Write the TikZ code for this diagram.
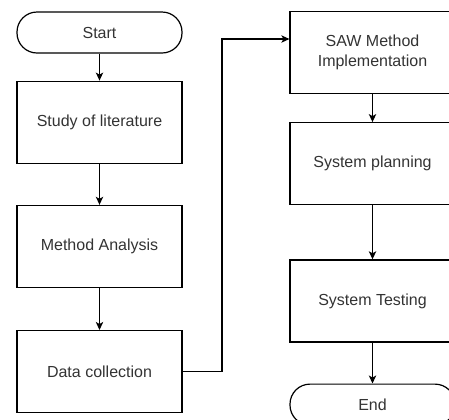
\documentclass[tikz,border=0pt]{standalone}
\usepackage{fontspec}
\setmainfont{Liberation Sans}
\usepackage{tikz}
\usetikzlibrary{arrows.meta,positioning}
\tikzset{
  termnode/.style={draw, rounded corners=15pt, minimum width=123.75pt, minimum height=30.75pt, inner sep=0pt, text=black!80, font=\fontsize{12}{14}\selectfont, line width=0.9pt},
  stepbox/.style={draw, minimum width=123.75pt, minimum height=61.5pt, inner sep=0pt, align=center, text=black!80, font=\fontsize{12}{14.5}\selectfont, line width=0.9pt},
  flow/.style={-{Stealth[length=6pt,width=5.5pt,inset=1.5pt]}, line width=0.9pt}
}

\begin{document}
\begin{tikzpicture}[x=0.75pt, y=-0.75pt]
	\useasboundingbox (0,0) rectangle (449,419);
	% left column
	\node[termnode] (start) at (99.5,32.5) {Start};
	\node[stepbox, below=20.25pt of start] (study) {Study of literature};
	\node[stepbox, below=30.75pt of study] (analysis) {Method Analysis};
	\node[stepbox, below=31.5pt of analysis] (data) {Data collection};
	% right column
	\node[stepbox] (saw) at (372.5,52.5) {SAW Method\\Implementation};
	\node[stepbox, below=21pt of saw] (planning) {System planning};
	\node[stepbox, below=40.5pt of planning] (testing) {System Testing};
	\node[termnode, below=30.75pt of testing] (end) {End};
	\coordinate (turn) at (222,39);
	% connectors
	\draw[flow] (start) -- (study);
	\draw[flow] (study) -- (analysis);
	\draw[flow] (analysis) -- (data);
	\draw[flow] (data.east) -| (turn) -- (turn -| saw.west);
	\draw[flow] (saw) -- (planning);
	\draw[flow] (planning) -- (testing);
	\draw[flow] (testing) -- (end);
\end{tikzpicture}
\end{document}
